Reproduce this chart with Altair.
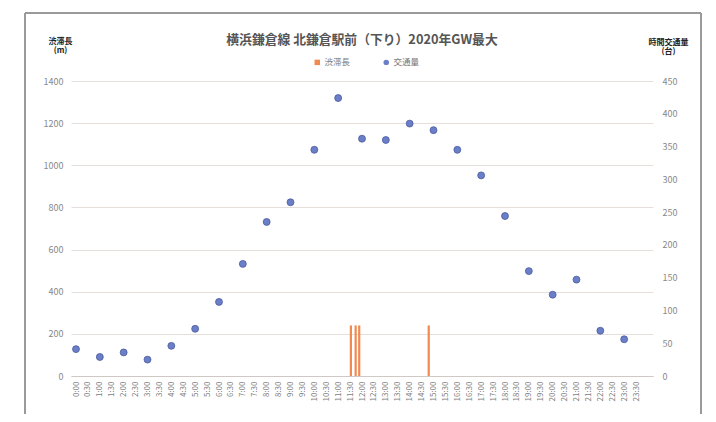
import altair as alt
import pandas as pd

FONT = "Noto Sans CJK JP"

# Hourly traffic volume (台/h), points at each full hour
hours = ["0:00", "1:00", "2:00", "3:00", "4:00", "5:00", "6:00", "7:00", "8:00", "9:00",
         "10:00", "11:00", "12:00", "13:00", "14:00", "15:00", "16:00", "17:00", "18:00",
         "19:00", "20:00", "21:00", "22:00", "23:00"]
traffic = [41, 29, 36, 25, 46, 72, 113, 171, 235, 265, 345, 424, 362, 360, 385, 375,
           345, 306, 244, 160, 124, 147, 69, 56]

# Congestion length (m)
jam_times = ["11:32", "11:44", "11:53", "14:48"]
jam_length = [240, 240, 240, 240]

# x tick labels every 30 minutes
tick_labels = [f"{h}:{m:02d}" for h in range(24) for m in (0, 30)]


def to_min(t):
    h, m = t.split(":")
    return int(h) * 60 + int(m)


tick_values = [to_min(t) for t in tick_labels]

traffic_df = pd.DataFrame({"time": hours, "min": [to_min(t) for t in hours],
                           "value": traffic, "series": "交通量"})
jam_df = pd.DataFrame({"time": jam_times, "min": [to_min(t) for t in jam_times],
                       "value": jam_length, "series": "渋滞長"})

series_dom = ["渋滞長", "交通量"]
series_col = ["#f08a50", "#6a7fc8"]

x_enc = alt.X("min:Q",
              scale=alt.Scale(domain=[0, 1440], nice=False, zero=False),
              axis=alt.Axis(values=tick_values, labelAngle=270, labelFontSize=8,
                            labelColor="#808080", labelFont=FONT, ticks=False,
                            grid=False, domain=True, domainColor="#d0c8c4",
                            labelPadding=5, title=None,
                            labelExpr="floor(datum.value/60) + ':' + (datum.value % 60 == 0 ? '00' : '30')"))

bars = alt.Chart(jam_df).mark_bar(size=2.2).encode(
    x=x_enc,
    y=alt.Y("value:Q", scale=alt.Scale(domain=[0, 1400], nice=False),
            axis=alt.Axis(orient="left", values=list(range(0, 1401, 200)), format="d",
                          labelFontSize=9, labelColor="#888888", labelFont=FONT,
                          ticks=False, domain=False, grid=True, gridColor="#e6dedb",
                          gridWidth=1, labelPadding=8,
                          title=["渋滞長", "(m)"], titleAngle=0, titleFontSize=8,
                          titleFont=FONT, titleFontWeight="bold", titleColor="#222222",
                          titleAlign="center", titleBaseline="alphabetic",
                          titleX=-11, titleY=-38, titleLineHeight=9.5)),
    color=alt.Color("series:N", scale=alt.Scale(domain=series_dom, range=series_col),
                    legend=alt.Legend(orient="none", legendX=242, legendY=-23,
                                      direction="horizontal", title=None,
                                      labelFont=FONT, labelFontSize=8.5,
                                      labelColor="#777777", symbolSize=30,
                                      columnPadding=31, symbolStrokeWidth=0,
                                      labelOffset=3)),
)

points = alt.Chart(traffic_df).mark_point(filled=True, size=48, stroke="#4a5b9e",
                                          strokeWidth=0.8, opacity=1).encode(
    x=x_enc,
    y=alt.Y("value:Q", scale=alt.Scale(domain=[0, 450], nice=False),
            axis=alt.Axis(orient="right", values=list(range(0, 451, 50)),
                          labelFontSize=9, labelColor="#888888", labelFont=FONT,
                          ticks=False, domain=False, grid=False, labelPadding=9,
                          title=["時間交通量", "(台)"], titleAngle=0, titleFontSize=8,
                          titleFont=FONT, titleFontWeight="bold", titleColor="#222222",
                          titleAlign="center", titleBaseline="alphabetic",
                          titleX=15, titleY=-37, titleLineHeight=9.5)),
    color=alt.Color("series:N", scale=alt.Scale(domain=series_dom, range=series_col)),
    shape=alt.Shape("series:N", scale=alt.Scale(domain=series_dom, range=["square", "circle"]),
                    legend=None),
)

frame_top = alt.Chart(traffic_df).mark_rule(color="#9a9a9a", strokeWidth=1.5).encode(
    x=alt.value(-46), x2=alt.value(630), y=alt.value(-68))
frame_left = alt.Chart(traffic_df).mark_rule(color="#9a9a9a", strokeWidth=1.5).encode(
    x=alt.value(-46), y=alt.value(-68), y2=alt.value(360))
frame_right = alt.Chart(traffic_df).mark_rule(color="#9a9a9a", strokeWidth=1.5).encode(
    x=alt.value(630), y=alt.value(-68), y2=alt.value(360))

chart = alt.layer(bars, points, frame_top, frame_left, frame_right).resolve_scale(
    y="independent"
).properties(
    width=582, height=295,
    autosize=alt.AutoSizeParams(type="none"),
    padding={"left": 63, "top": 73, "right": 55, "bottom": 38},
    background="white",
    title=alt.TitleParams("横浜鎌倉線 北鎌倉駅前（下り）2020年GW最大", font=FONT,
                          fontSize=12.8, fontWeight="bold", color="#555555",
                          anchor="middle", frame="group", offset=-35),
).configure_view(stroke=None)

chart.save("out.html", embed_options={"renderer": "svg", "actions": False})
